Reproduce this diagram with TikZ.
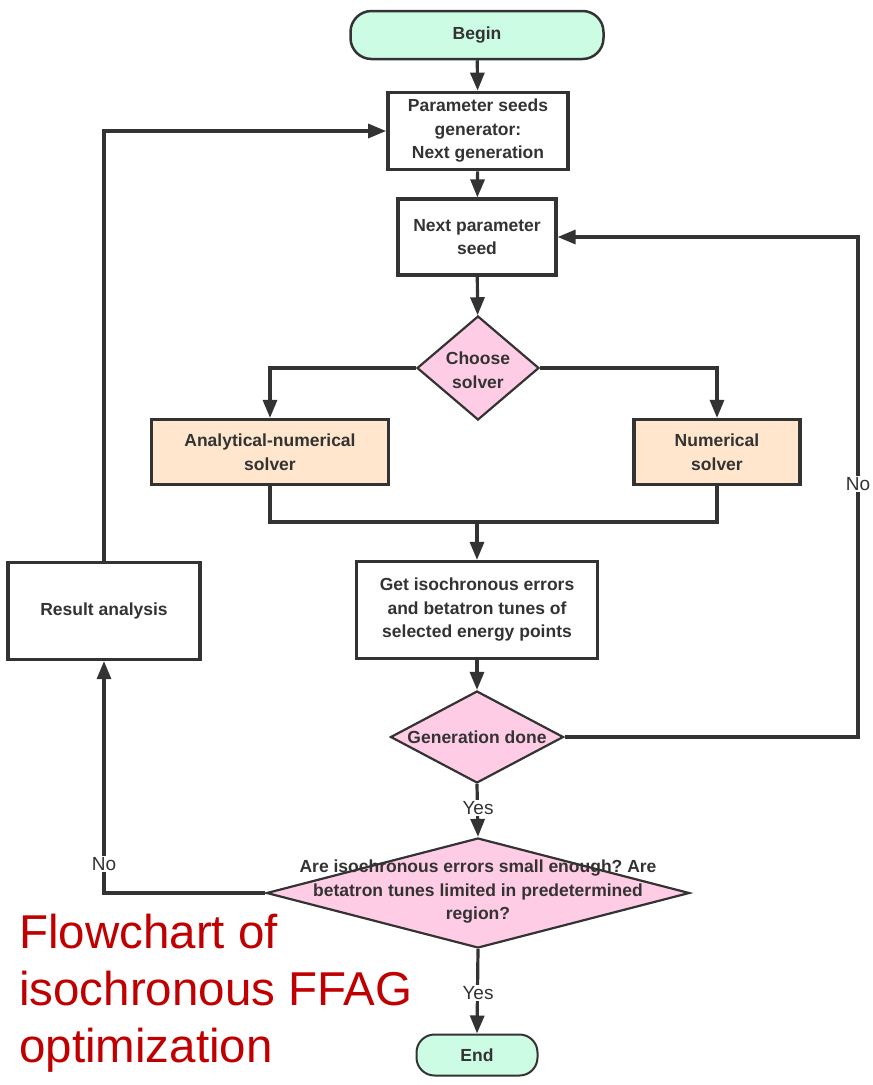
\documentclass[tikz,border=0pt]{standalone}
\usepackage{fontspec}
\setmainfont{Liberation Sans}
\usetikzlibrary{shapes.geometric,arrows.meta}
\frenchspacing
\definecolor{ink}{HTML}{333333}
\definecolor{mint}{HTML}{CCFCE4}
\definecolor{pinkd}{HTML}{FFCCE6}
\definecolor{peach}{HTML}{FFE6CC}
\definecolor{redt}{HTML}{C00000}
\tikzset{
  txt/.style={font=\bfseries\fontsize{17.5}{23.5}\selectfont, text=ink, align=center, inner sep=0pt},
  term/.style={txt, draw=ink, line width=2.5pt, fill=mint, rounded corners=21pt},
  proc/.style={txt, draw=ink, line width=3.2pt, fill=white},
  solv/.style={proc, fill=peach},
  dec/.style={diamond, draw=ink, line width=2.2pt, fill=pinkd, inner sep=0pt},
  conn/.style={draw=ink, line width=3.2pt},
  arr/.style={conn, -{Triangle[width=14pt,length=18pt]}},
  lab/.style={fill=white, text=ink, font=\fontsize{19}{22}\selectfont, inner sep=1.5pt},
  captext/.style={anchor=base west, text=redt, font=\fontsize{47.5}{57}\selectfont, inner sep=0pt}
}
\begin{document}
\begin{tikzpicture}[x=1pt,y=-1pt]
\useasboundingbox (0,0) rectangle (873,1085);
% nodes
\node[term, minimum width=253pt, minimum height=48pt] (begin) at (477,35) {Begin};
\node[proc, line width=3.8pt, minimum width=180pt, minimum height=77pt] (gen) at (478,131) {Parameter seeds\\generator:\\Next generation};
\node[proc, minimum width=158pt, minimum height=76pt] (seed) at (477,237) {Next parameter\\seed};
\node[dec, minimum width=122pt, minimum height=104pt] (choose) at (478,368) {};
\node[txt] (chooset) at (478,370) {Choose\\solver};
\node[solv, minimum width=237pt, minimum height=65pt] (ana) at (270,452) {Analytical-numerical\\solver};
\node[solv, minimum width=166pt, minimum height=65pt] (num) at (717,452) {Numerical\\solver};
\node[proc, minimum width=241pt, minimum height=97pt] (get) at (477,610) {Get isochronous errors\\and betatron tunes of\\selected energy points};
\node[dec, minimum width=173pt, minimum height=92pt] (done) at (477,737) {};
\node[txt] (donet) at (477,737) {Generation done};
\node[dec, minimum width=423pt, minimum height=110pt] (final) at (478,893) {};
\node[txt] (finalt) at (478,892) {Are isochronous errors small enough? Are\\betatron tunes limited in predetermined\\region?};
\node[term, line width=2pt, minimum width=121pt, minimum height=41pt, rounded corners=18pt] (end) at (477,1055) {End};
\node[proc, minimum width=192pt, minimum height=97pt] (res) at (104,611) {Result analysis};
% connectors
\draw[arr] (begin) -- (gen);
\draw[arr] (gen) -- (seed);
\draw[arr] (seed) -- (choose);
\draw[arr] (choose.west) -| (ana.north);
\draw[arr] (choose.east) -| (num.north);
\coordinate (merge) at (477,522);
\draw[conn] (ana.south) |- (merge) -| (num.south);
\draw[arr] (merge) -- (get.north);
\draw[arr] (get) -- (done);
\draw[arr] (done.south) -- (final.north);
\node[lab] (yes1) at (478,808) {Yes};
\draw[arr] (final.south) -- (end.north);
\node[lab] (yes2) at (478,993) {Yes};
\coordinate (rc) at (858,737);
\draw[arr] (done.east) -- (rc) |- (seed.east);
\node[lab] (no1) at (858,484) {No};
\coordinate (lc) at (104,893);
\draw[arr] (final.west) -- (lc) -- (res.south);
\node[lab] (no2) at (104,864) {No};
\draw[arr] (res.north) |- (gen.west);
% caption
\node[captext] (cap1) at (19,948) {Flowchart of};
\node[captext] (cap2) at (19,1005) {isochronous FFAG};
\node[captext] (cap3) at (19,1062) {optimization};
\end{tikzpicture}
\end{document}
